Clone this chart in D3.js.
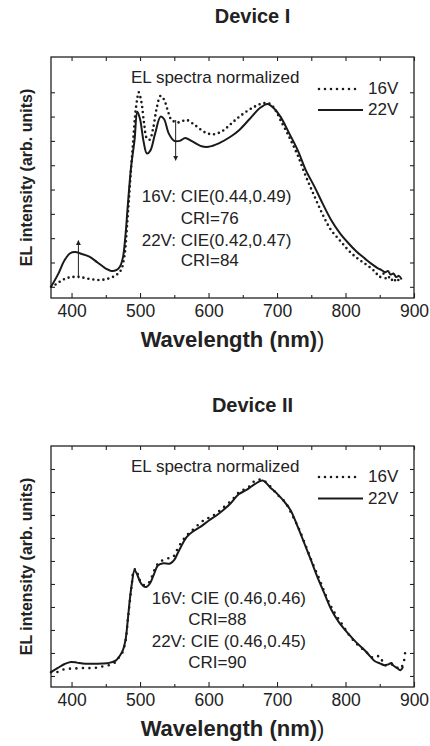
<!DOCTYPE html>
<html>
<head>
<meta charset="utf-8">
<script src="https://cdn.jsdelivr.net/npm/d3@7"></script>
<style>
  body { margin: 0; background: #fff; }
  svg text { font-family: "Liberation Sans", Arial, sans-serif; fill: #222; }
</style>
</head>
<body>
<div id="viz"></div>
<script>
// tick values
const xMajor = [400, 500, 600, 700, 800, 900];
const xMinor = [450, 550, 650, 750, 850];
const xTop = d3.range(400, 901, 50);
const yTicks1 = d3.range(0, 0.81, 0.1);
const yTicks2 = d3.range(0, 0.91, 0.1);

// Device I spectra [wavelength, normalized intensity]
const dev1_16V = [[370,0.0],[378,0.012],[385,0.025],[392,0.035],[400,0.04],[411,0.041],[425,0.033],[441,0.028],[455,0.035],[465,0.048],[472,0.068],[477,0.123],[481,0.25],[484,0.37],[487,0.49],[490,0.6],[493,0.71],[496,0.775],[498,0.8],[502,0.76],[506,0.67],[510,0.61],[514,0.605],[519,0.65],[524,0.73],[530,0.785],[535,0.77],[541,0.72],[546,0.686],[556,0.676],[568,0.686],[580,0.665],[595,0.635],[607,0.627],[620,0.64],[632,0.668],[642,0.693],[655,0.72],[668,0.742],[680,0.755],[690,0.752],[698,0.725],[705,0.686],[718,0.615],[730,0.542],[742,0.455],[755,0.37],[767,0.295],[779,0.233],[792,0.19],[804,0.151],[816,0.12],[828,0.096],[840,0.07],[846,0.052],[850,0.04],[855,0.055],[860,0.03],[865,0.042],[870,0.02],[875,0.035],[880,0.01]];
const dev1_22V = [[370,0.0],[380,0.05],[390,0.11],[398,0.138],[405,0.143],[415,0.135],[426,0.124],[438,0.1],[450,0.075],[458,0.065],[466,0.07],[471,0.085],[475,0.12],[479,0.22],[482,0.33],[487,0.494],[492,0.604],[496,0.72],[500,0.69],[505,0.6],[510,0.548],[515,0.56],[522,0.63],[530,0.7],[535,0.69],[542,0.63],[550,0.6],[558,0.6],[566,0.612],[575,0.6],[590,0.578],[600,0.576],[615,0.59],[632,0.617],[645,0.645],[660,0.69],[675,0.735],[686,0.752],[695,0.735],[705,0.7],[718,0.63],[730,0.563],[742,0.48],[755,0.41],[767,0.34],[779,0.275],[792,0.22],[804,0.18],[816,0.145],[828,0.117],[840,0.09],[848,0.075],[852,0.07],[858,0.06],[862,0.065],[866,0.05],[870,0.055],[874,0.04],[878,0.045],[882,0.03]];

// Device II spectra
const dev2_16V = [[370,0.016],[379,0.017],[388,0.028],[399,0.032],[409,0.033],[420,0.035],[430,0.034],[440,0.038],[448,0.043],[458,0.05],[464,0.06],[468,0.076],[474,0.1],[479,0.155],[482,0.24],[485,0.32],[488,0.4],[491,0.46],[494,0.465],[498,0.43],[503,0.4],[509,0.395],[514,0.41],[519,0.445],[524,0.48],[529,0.496],[539,0.51],[548,0.517],[556,0.56],[566,0.604],[576,0.633],[593,0.677],[605,0.694],[620,0.728],[637,0.774],[645,0.8],[658,0.82],[669,0.851],[679,0.852],[690,0.825],[700,0.79],[712,0.755],[722,0.7],[732,0.64],[742,0.565],[752,0.49],[762,0.42],[772,0.345],[782,0.285],[795,0.225],[806,0.175],[818,0.135],[830,0.105],[840,0.08],[850,0.086],[856,0.05],[862,0.045],[868,0.05],[874,0.04],[879,0.03],[884,0.05],[887,0.1]];
const dev2_22V = [[370,0.017],[380,0.035],[390,0.052],[399,0.061],[408,0.058],[416,0.054],[430,0.053],[445,0.054],[455,0.057],[465,0.068],[471,0.09],[475,0.112],[479,0.16],[482,0.24],[485,0.33],[488,0.4],[492,0.46],[496,0.44],[500,0.41],[505,0.39],[509,0.387],[514,0.4],[520,0.44],[526,0.48],[534,0.49],[544,0.489],[550,0.505],[556,0.54],[568,0.604],[578,0.63],[588,0.648],[600,0.675],[612,0.699],[625,0.73],[632,0.75],[644,0.79],[656,0.81],[668,0.835],[679,0.85],[690,0.82],[700,0.793],[710,0.76],[720,0.72],[730,0.65],[740,0.576],[750,0.5],[759,0.43],[769,0.36],[779,0.29],[790,0.235],[804,0.184],[816,0.145],[828,0.112],[836,0.085],[843,0.064],[850,0.055],[857,0.047],[862,0.05],[867,0.056],[870,0.045],[875,0.035],[880,0.025],[884,0.039]];

// arrows on Device I  [wavelength, from, to]
const dev1_arrows = [[410, 0.035, 0.19], [552, 0.686, 0.52]];

const cie1 = ["16V: CIE(0.44,0.49)", "CRI=76", "22V: CIE(0.42,0.47)", "CRI=84"];
const cie2 = ["16V: CIE (0.46,0.46)", "CRI=88", "22V: CIE (0.46,0.45)", "CRI=90"];

const width = 430, height = 746;
const left = 51, right = 414, plotH = 241;

const svg = d3.select("#viz").append("svg")
  .attr("width", width).attr("height", height);

const defs = svg.append("defs");
defs.append("marker")
  .attr("id", "arrow")
  .attr("viewBox", "0 0 10 10")
  .attr("refX", 9).attr("refY", 5)
  .attr("markerWidth", 5).attr("markerHeight", 6)
  .attr("markerUnits", "userSpaceOnUse")
  .attr("orient", "auto")
  .append("path").attr("d", "M0,0 L10,5 L0,10 Z").attr("fill", "#222");

const xScale = d3.scaleLinear().domain([370, 900]).range([left, right]);

function panel(p) {
  const top = p.top, bottom = top + plotH;
  const yScale = d3.scaleLinear().domain(p.yDomain).range([bottom, top]);
  const g = svg.append("g");

  // title
  g.append("text").text(p.title)
    .attr("x", 252.5).attr("y", top - 33.7)
    .attr("text-anchor", "middle")
    .style("font-size", "20px").style("font-weight", "bold");

  // axes (ticks inside)
  g.append("g").attr("transform", "translate(0," + bottom + ")")
    .call(d3.axisBottom(xScale).tickValues(xMajor).tickSize(-5).tickPadding(7).tickFormat(d => d))
    .call(a => a.selectAll("text").style("font-size", "17.5px").attr("fill", "#222"));
  g.append("g").attr("transform", "translate(0," + bottom + ")")
    .call(d3.axisBottom(xScale).tickValues(xMinor).tickSize(-3).tickFormat(""));
  g.append("g").attr("transform", "translate(0," + top + ")")
    .call(d3.axisTop(xScale).tickValues(xTop).tickSize(-4).tickFormat(""));
  g.append("g").attr("transform", "translate(" + left + ",0)")
    .call(d3.axisLeft(yScale).tickValues(p.yTicks).tickSize(-4).tickFormat(""));
  g.append("g").attr("transform", "translate(" + right + ",0)")
    .call(d3.axisRight(yScale).tickValues(p.yTicks).tickSize(-4).tickFormat(""));
  g.selectAll(".domain").remove();
  g.selectAll(".tick line").attr("stroke", "#222").attr("stroke-width", 1.1);

  // frame
  g.append("rect")
    .attr("x", left).attr("y", top)
    .attr("width", right - left).attr("height", plotH)
    .attr("fill", "none").attr("stroke", "#222").attr("stroke-width", 1.3);

  // axis labels
  g.append("text")
    .attr("x", (left + right) / 2).attr("y", bottom + 49)
    .attr("text-anchor", "middle")
    .style("font-size", "22px")
    .call(t => {
      t.append("tspan").text("Wavelength (nm)").style("font-weight", "bold");
      t.append("tspan").text(")");
    });
  g.append("text").text("EL intensity (arb. units)")
    .attr("transform", "translate(31.5," + (top + plotH / 2) + ") rotate(-90)")
    .attr("text-anchor", "middle")
    .style("font-size", "16px").style("font-weight", "bold");

  // spectra
  const line = d3.line()
    .x(d => xScale(d[0])).y(d => yScale(d[1]))
    .curve(d3.curveCatmullRom.alpha(0.5));
  g.append("path").datum(p.s22)
    .attr("d", line).attr("fill", "none")
    .attr("stroke", "#1a1a1a").attr("stroke-width", 2);
  g.append("path").datum(p.s16)
    .attr("d", line).attr("fill", "none")
    .attr("stroke", "#1a1a1a").attr("stroke-width", 2.6)
    .attr("stroke-linecap", "round").attr("stroke-dasharray", p.dots);

  // arrows
  g.selectAll(".arrow").data(p.arrows).enter().append("line")
    .attr("class", "arrow")
    .attr("x1", d => xScale(d[0])).attr("x2", d => xScale(d[0]))
    .attr("y1", d => yScale(d[1])).attr("y2", d => yScale(d[2]))
    .attr("stroke", "#222").attr("stroke-width", 1)
    .attr("marker-end", "url(#arrow)");

  // header text
  g.append("text").text("EL spectra normalized")
    .attr("x", 131).attr("y", top + 26)
    .style("font-size", "17px");

  // legend
  const leg = g.append("g");
  leg.append("line")
    .attr("x1", 319).attr("x2", 359).attr("y1", top + p.legY[0]).attr("y2", top + p.legY[0])
    .attr("stroke", "#1a1a1a").attr("stroke-width", 2.6)
    .attr("stroke-linecap", "round").attr("stroke-dasharray", "0,6");
  leg.append("text").text("16V").attr("x", 368).attr("y", top + p.legY[0] + 5)
    .style("font-size", "17px");
  leg.append("line")
    .attr("x1", 318).attr("x2", 363).attr("y1", top + p.legY[1]).attr("y2", top + p.legY[1])
    .attr("stroke", "#1a1a1a").attr("stroke-width", 2);
  leg.append("text").text("22V").attr("x", 368).attr("y", top + p.legY[1] + 5)
    .style("font-size", "17px");

  // CIE / CRI notes
  g.selectAll(".note").data(p.notes).enter().append("text")
    .attr("class", "note")
    .text(d => d)
    .attr("x", (d, i) => i % 2 ? p.noteX[1] : p.noteX[0])
    .attr("y", (d, i) => top + p.noteY[i])
    .style("font-size", "17px");
}

panel({
  title: "Device I", top: 57,
  yDomain: [-0.046, 0.945], yTicks: yTicks1,
  s16: dev1_16V, s22: dev1_22V, dots: "0,5",
  arrows: dev1_arrows,
  legY: [32, 53],
  notes: cie1, noteX: [141.7, 180.7], noteY: [144.7, 167.3, 188.5, 209]
});

panel({
  title: "Device II", top: 446,
  yDomain: [-0.048, 1.0], yTicks: yTicks2,
  s16: dev2_16V, s22: dev2_22V, dots: "0,6.5",
  arrows: [],
  legY: [31, 52.5],
  notes: cie2, noteX: [151.7, 188.3], noteY: [157.5, 179, 200.5, 222]
});
</script>
</body>
</html>
